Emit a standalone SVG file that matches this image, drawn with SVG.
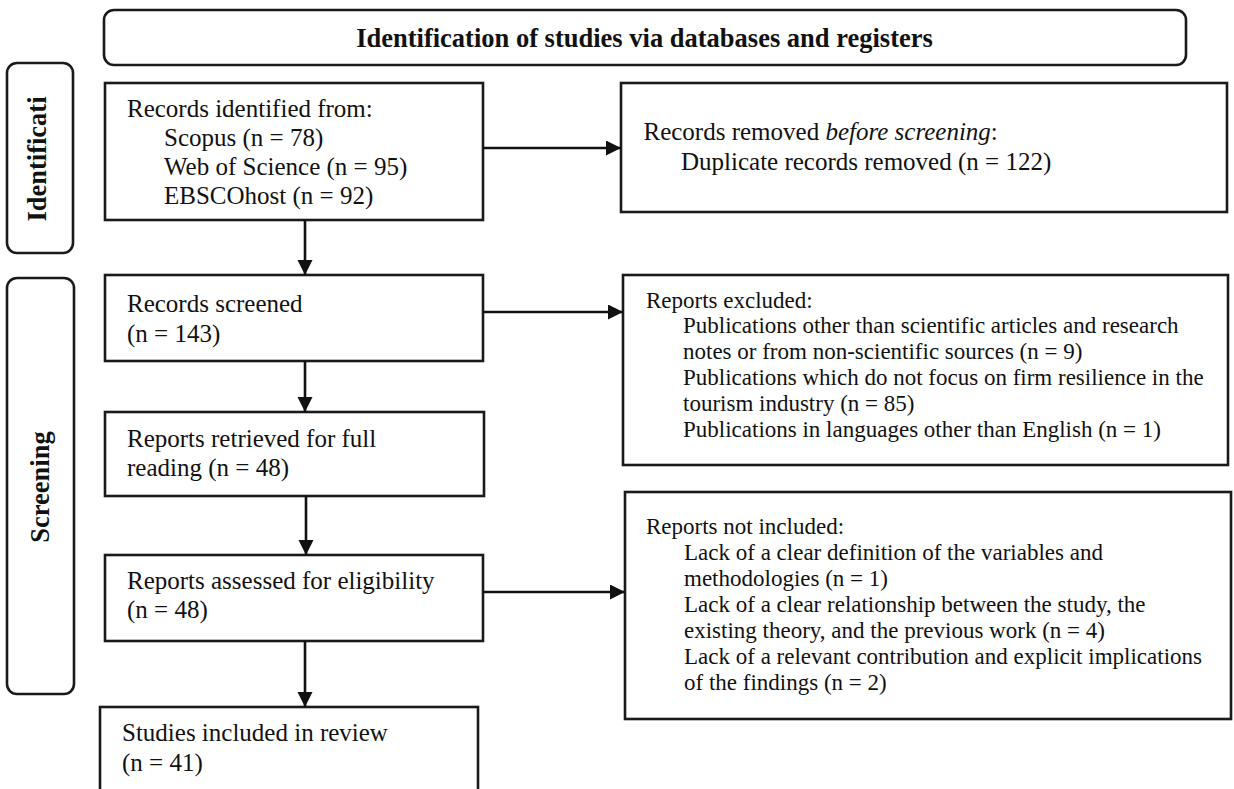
<svg xmlns="http://www.w3.org/2000/svg" width="1234" height="789" viewBox="0 0 1234 789">
<defs>
<marker id="ah" markerUnits="userSpaceOnUse" markerWidth="16" markerHeight="16" refX="15" refY="7.5" orient="auto">
<path d="M0,0 L15,7.5 L0,15 z" fill="#111"/>
</marker>
<style>
.box{fill:#fff;stroke:#1a1a1a;stroke-width:2.6}
.lbl{fill:#fff;stroke:#1a1a1a;stroke-width:2.6}
.t{font-family:"Liberation Serif","Times New Roman",serif;font-size:25px;fill:#111}
.s{font-family:"Liberation Serif","Times New Roman",serif;font-size:23px;fill:#111}
.b{font-family:"Liberation Serif","Times New Roman",serif;font-size:26.5px;font-weight:bold;fill:#111}
.c{stroke:#111;stroke-width:2.6;fill:none;marker-end:url(#ah)}
</style>
</defs>
<rect width="1234" height="789" fill="#fff"/>
<g id="header">
<rect class="lbl" x="104" y="10" width="1082" height="55" rx="10"/>
<text class="b" x="644.5" y="47" text-anchor="middle">Identification of studies via databases and registers</text>
</g>
<g id="phase-identification">
<rect class="lbl" x="7" y="63" width="66" height="190" rx="10"/>
<text class="b" transform="translate(46,159) rotate(-90)" text-anchor="middle">Identificati</text>
</g>
<g id="phase-screening">
<rect class="lbl" x="7" y="278" width="67" height="416" rx="10"/>
<text class="b" transform="translate(49,487) rotate(-90)" text-anchor="middle">Screening</text>
</g>
<g id="records-identified">
<rect class="box" x="105" y="83" width="378" height="137"/>
<text class="t" x="127" y="117">Records identified from:</text>
<text class="t" x="164" y="146">Scopus (n = 78)</text>
<text class="t" x="164" y="175">Web of Science (n = 95)</text>
<text class="t" x="164" y="204">EBSCOhost (n = 92)</text>
</g>
<g id="records-removed">
<rect class="box" x="621" y="83" width="606" height="129"/>
<text class="t" x="643.5" y="140">Records removed <tspan font-style="italic">before screening</tspan>:</text>
<text class="t" x="681" y="170">Duplicate records removed (n = 122)</text>
</g>
<g id="records-screened">
<rect class="box" x="105" y="275" width="378" height="86"/>
<text class="t" x="127" y="312">Records screened</text>
<text class="t" x="127" y="342">(n = 143)</text>
</g>
<g id="reports-excluded">
<rect class="box" x="623" y="275" width="605" height="190"/>
<text class="s" x="646" y="308">Reports excluded:</text>
<text class="s" x="683" y="333">Publications other than scientific articles and research</text>
<text class="s" x="683" y="359">notes or from non-scientific sources (n = 9)</text>
<text class="s" x="683" y="385">Publications which do not focus on firm resilience in the</text>
<text class="s" x="683" y="411">tourism industry (n = 85)</text>
<text class="s" x="683" y="437">Publications in languages other than English (n = 1)</text>
</g>
<g id="reports-retrieved">
<rect class="box" x="105" y="412" width="379" height="84"/>
<text class="t" x="127" y="447">Reports retrieved for full</text>
<text class="t" x="127" y="476">reading (n = 48)</text>
</g>
<g id="reports-assessed">
<rect class="box" x="105" y="555" width="378" height="86"/>
<text class="t" x="127" y="589">Reports assessed for eligibility</text>
<text class="t" x="127" y="618">(n = 48)</text>
</g>
<g id="reports-not-included">
<rect class="box" x="625" y="492" width="606" height="227"/>
<text class="s" x="646" y="534">Reports not included:</text>
<text class="s" x="684" y="560">Lack of a clear definition of the variables and</text>
<text class="s" x="684" y="586">methodologies (n = 1)</text>
<text class="s" x="684" y="612">Lack of a clear relationship between the study, the</text>
<text class="s" x="684" y="638">existing theory, and the previous work (n = 4)</text>
<text class="s" x="684" y="664">Lack of a relevant contribution and explicit implications</text>
<text class="s" x="684" y="690">of the findings (n = 2)</text>
</g>
<g id="studies-included">
<rect class="box" x="100" y="707" width="378" height="100"/>
<text class="t" x="122" y="741">Studies included in review</text>
<text class="t" x="122" y="771">(n = 41)</text>
</g>
<g id="connectors">
<line class="c" x1="483" y1="148" x2="621" y2="148"/>
<line class="c" x1="305" y1="220" x2="305" y2="275"/>
<line class="c" x1="483" y1="312" x2="623" y2="312"/>
<line class="c" x1="305" y1="361" x2="305" y2="412"/>
<line class="c" x1="306" y1="496" x2="306" y2="555"/>
<line class="c" x1="483" y1="592" x2="625" y2="592"/>
<line class="c" x1="305" y1="641" x2="305" y2="707"/>
</g>
</svg>
